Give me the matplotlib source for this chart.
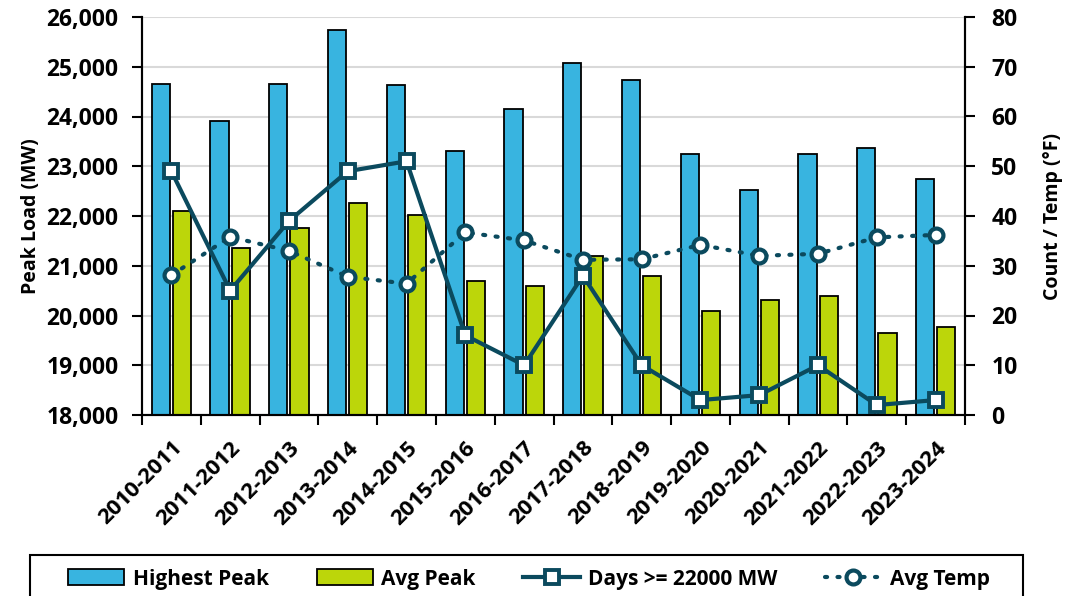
import matplotlib.pyplot as plt
from matplotlib.patches import Rectangle
import numpy as np

seasons = ['2010-2011', '2011-2012', '2012-2013', '2013-2014', '2014-2015',
           '2015-2016', '2016-2017', '2017-2018', '2018-2019', '2019-2020',
           '2020-2021', '2021-2022', '2022-2023', '2023-2024']
highest_peak = [24650, 23900, 24650, 25730, 24630, 23300, 24160,
                25070, 24730, 23240, 22530, 23240, 23370, 22740]
avg_peak = [22100, 21350, 21750, 22260, 22020, 20700, 20600,
            21200, 20800, 20090, 20310, 20400, 19640, 19760]
days_over = [49, 25, 39, 49, 51, 16, 10, 28, 10, 3, 4, 10, 2, 3]
avg_temp = [28.1, 35.8, 33.0, 27.8, 26.4, 36.7, 35.1,
            31.2, 31.3, 34.2, 32.0, 32.4, 35.7, 36.2]

blue = '#38B4E0'
green = '#BCD60A'
navy = '#0B4A5E'

plt.rcParams['font.family'] = ['Open Sans', 'DejaVu Sans']
plt.rcParams['font.weight'] = 'bold'
plt.rcParams['axes.labelweight'] = 'bold'

fig = plt.figure(figsize=(10.65, 5.96), dpi=100)
ax = fig.add_axes([142/1065, 1-415/596, 823/1065, 398/596])
ax2 = ax.twinx()

x = np.arange(len(seasons))
w = 0.31
ax.bar(x - 0.18, highest_peak, w, color=blue, edgecolor='black', linewidth=1.3,
       label='Highest Peak', zorder=2)
ax.bar(x + 0.18, avg_peak, w, color=green, edgecolor='black', linewidth=1.3,
       label='Avg Peak', zorder=2)

ax2.plot(x, days_over, color=navy, lw=3, marker='s', ms=10.5, mfc='white',
         mec=navy, mew=2.8, label='Days >= 22000 MW')
ax2.plot(x, avg_temp, color=navy, lw=3, ls=(0, (0.5, 2.5)), dash_capstyle='round',
         marker='o', ms=10, mfc='white', mec=navy, mew=3, label='Avg Temp')

ax.set_ylim(18000, 26000)
ax.set_yticks(range(18000, 26001, 1000))
ax.set_yticklabels([f'{v:,}' for v in range(18000, 26001, 1000)], fontweight='bold')
ax2.set_ylim(0, 80)
ax2.set_yticks(range(0, 81, 10))
ax2.set_yticklabels([str(v) for v in range(0, 81, 10)], fontweight='bold')
ax.set_xlim(-0.5, len(seasons) - 0.5)

ax.yaxis.grid(True, color='#D9D9D9', lw=1.5, zorder=0)
ax.set_axisbelow(True)

ax.set_xticks(x)
ax.set_xticklabels(seasons, rotation=45, ha='right', rotation_mode='anchor',
                   fontsize=16, fontweight='bold')
ax.set_xticks(np.arange(-0.5, len(seasons)), minor=True)
ax.tick_params(axis='x', which='major', length=0, pad=16)
ax.tick_params(axis='x', which='minor', length=7, width=1.5)
ax.tick_params(axis='y', labelsize=16.5, length=7, width=1.5, pad=10)
ax2.tick_params(axis='y', labelsize=16.5, length=7, width=1.5, pad=12)

for a in (ax, ax2):
    a.spines['top'].set_visible(False)
    for s in ('left', 'right', 'bottom'):
        a.spines[s].set_linewidth(1.5)

ax.set_ylabel('Peak Load (MW)', fontsize=14, fontweight='bold', labelpad=4)
ax2.set_ylabel('Count / Temp (°F)', fontsize=14, fontweight='bold', labelpad=18)

# legend box runs off the bottom edge like the original
fig.patches.append(Rectangle((30/1065, -0.05), 993/1065, 1-555/596 + 0.05,
                             transform=fig.transFigure, fill=False,
                             edgecolor='black', lw=1.5))
h1, l1 = ax.get_legend_handles_labels()
h2, l2 = ax2.get_legend_handles_labels()
leg = fig.legend(h1 + h2, l1 + l2, loc='center', ncol=4,
                 bbox_to_anchor=(529/1065, 1-579/596),
                 prop={'size': 15, 'weight': 'bold'}, frameon=False,
                 handlelength=2.7, handleheight=0.8, handletextpad=0.4,
                 columnspacing=2.3, borderaxespad=0)

fig.savefig('out.png', dpi=100)
